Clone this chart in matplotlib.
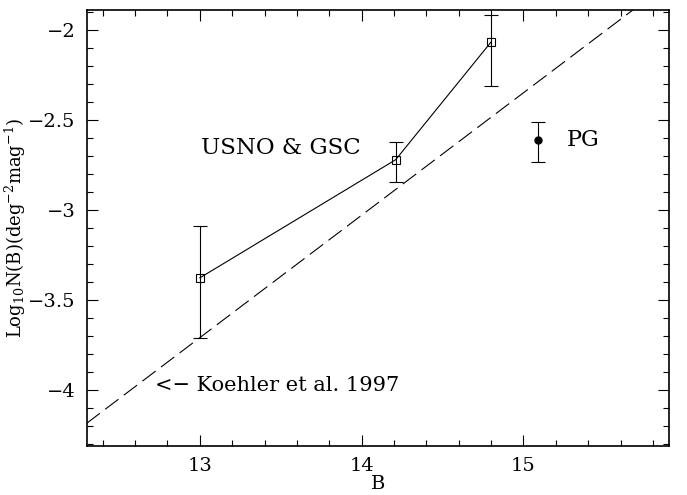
import matplotlib
matplotlib.use('Agg')
import matplotlib.pyplot as plt
from matplotlib.ticker import MultipleLocator, FuncFormatter

plt.rcParams['font.family'] = ['DejaVu Serif']
plt.rcParams['mathtext.fontset'] = 'dejavuserif'

# USNO & GSC counts (B mag, log N, error bar ends)
usno_b = [13.0, 14.21, 14.80]
usno_logn = [-3.378, -2.722, -2.068]
usno_lo = [-3.713, -2.844, -2.311]
usno_hi = [-3.089, -2.626, -1.918]

# PG survey point
pg_b = [15.09]
pg_logn = [-2.615]
pg_lo = [-2.732]
pg_hi = [-2.513]

# Koehler et al. 1997 relation, end points
koehler_b = [12.3, 15.9]
koehler_logn = [-4.186, -1.738]

fig = plt.figure(figsize=(6.87, 4.95), dpi=100)
ax = fig.add_axes([0.126, 0.0996, 0.848, 0.8804])

ax.plot(koehler_b, koehler_logn, color='black', lw=0.8, dashes=(15, 6))

err_u = [[v - lo for v, lo in zip(usno_logn, usno_lo)],
         [hi - v for v, hi in zip(usno_logn, usno_hi)]]
ax.errorbar(usno_b, usno_logn, yerr=err_u, color='black', lw=0.8,
            marker='s', ms=6, mfc='none', mec='black', mew=0.8,
            capsize=5, elinewidth=0.8, capthick=0.8)

err_pg = [[v - lo for v, lo in zip(pg_logn, pg_lo)],
          [hi - v for v, hi in zip(pg_logn, pg_hi)]]
ax.errorbar(pg_b, pg_logn, yerr=err_pg, color='black', fmt='o', ms=5,
            capsize=5, elinewidth=0.8, capthick=0.8)

ax.text(13.01, -2.655, 'USNO & GSC', fontsize=16.5, ha='left', va='center')
ax.text(15.27, -2.61, 'PG', fontsize=16, ha='left', va='center')
ax.text(12.72, -3.975, '<\u2212 Koehler et al. 1997', fontsize=15,
        ha='left', va='center')

ax.set_xlim(12.3, 15.9)
ax.set_ylim(-4.31, -1.89)
ax.xaxis.set_major_locator(MultipleLocator(1))
ax.xaxis.set_minor_locator(MultipleLocator(0.2))
ax.yaxis.set_major_locator(MultipleLocator(0.5))
ax.yaxis.set_minor_locator(MultipleLocator(0.1))
ax.yaxis.set_major_formatter(FuncFormatter(
    lambda v, p: ('%g' % v).replace('-', '\u2212')))
ax.tick_params(which='both', direction='in', top=True, right=True,
               labelsize=14, width=0.8)
ax.tick_params(which='major', length=8)
ax.tick_params(which='minor', length=4)
ax.tick_params(axis='x', pad=8)
ax.tick_params(axis='y', pad=8)
for s in ax.spines.values():
    s.set_linewidth(1.2)

ax.set_xlabel('B', fontsize=14, labelpad=0)
ax.set_ylabel(r'Log$_{10}$N(B)(deg$^{-2}$mag$^{-1}$)', fontsize=13)
ax.yaxis.set_label_coords(-0.1, 0.5)

fig.savefig('out.png', dpi=100)
